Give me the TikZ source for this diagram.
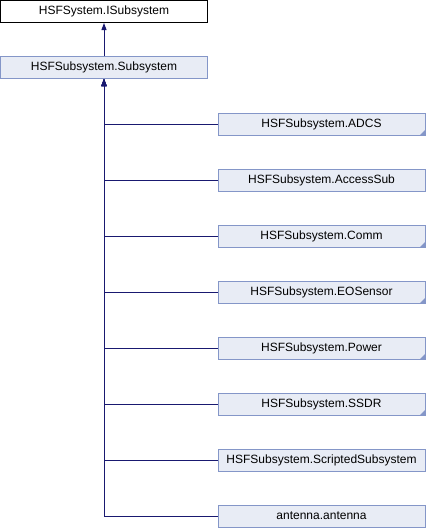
\documentclass[tikz,border=0pt]{standalone}
\usepackage{fontspec}
\setmainfont{Liberation Sans}
\usetikzlibrary{arrows.meta}
\definecolor{boxfill}{HTML}{E8ECF5}
\definecolor{boxline}{HTML}{8496C8}
\definecolor{edgecol}{HTML}{191970}
\begin{document}
\begin{tikzpicture}[x=1pt,y=-1pt,
  base/.style={draw, line width=1pt, minimum width=207pt, minimum height=22pt, inner sep=0pt, font=\fontsize{12}{14}\selectfont},
  topbox/.style={base, draw=black, fill=white},
  clsbox/.style={base, draw=boxline, fill=boxfill},
  edge/.style={draw=edgecol, line width=1pt, -{Triangle[length=7pt,width=5pt]}},
  fold/.style={fill=boxline}
]
\useasboundingbox (0,0) rectangle (426,528);
\node[topbox] (iface) at (104,11.5) {HSFSystem.ISubsystem};
\node[clsbox] (sub) at (104,67.5) {HSFSubsystem.Subsystem};
\node[clsbox] (adcs) at (321.5,124) {HSFSubsystem.ADCS};
\node[clsbox] (access) at (321.5,180) {HSFSubsystem.AccessSub};
\node[clsbox] (comm) at (321.5,236) {HSFSubsystem.Comm};
\node[clsbox] (eos) at (321.5,292) {HSFSubsystem.EOSensor};
\node[clsbox] (power) at (321.5,348) {HSFSubsystem.Power};
\node[clsbox] (ssdr) at (321.5,404) {HSFSubsystem.SSDR};
\node[clsbox] (script) at (321.5,460) {HSFSubsystem.ScriptedSubsystem};
\node[clsbox] (ant) at (321.5,516) {antenna.antenna};
\foreach \n in {adcs,comm,eos,power,ssdr}{
  \fill[fold] ([shift={(-6pt,0pt)}]\n.south east) -- ([shift={(0pt,6pt)}]\n.south east) -- (\n.south east) -- cycle;
}
\draw[edge] (sub) -- (iface);
\foreach \n in {adcs,access,comm,eos,power,ssdr,script,ant}{
  \draw[edge] (\n.west) -| (sub.south);
}
\end{tikzpicture}
\end{document}
